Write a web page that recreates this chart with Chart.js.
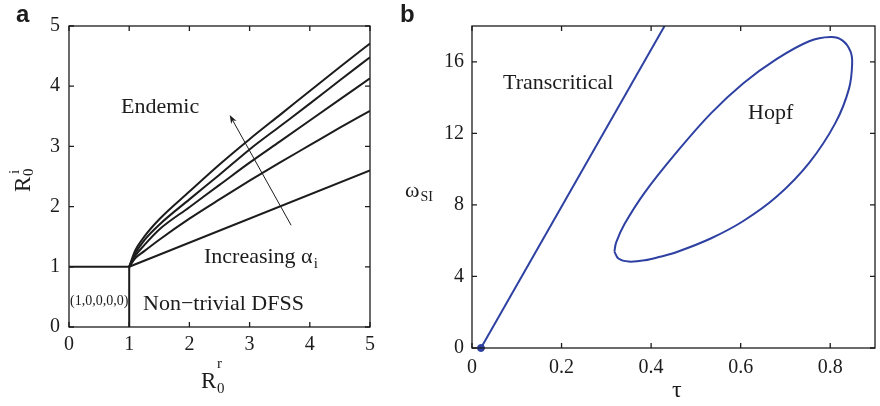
<!DOCTYPE html>
<html>
<head>
<meta charset="utf-8">
<script src="https://cdn.jsdelivr.net/npm/chart.js@4.4.1/dist/chart.umd.min.js"></script>
<style>
  body { margin: 0; background: #fff; }
  #wrap { position: relative; width: 880px; height: 406px; }
  canvas { position: absolute; top: 0; }
  #chartA { left: 0; }
  #chartB { left: 390px; }
</style>
</head>
<body>
<div id="wrap">
  <canvas id="chartA" width="390" height="406"></canvas>
  <canvas id="chartB" width="490" height="406"></canvas>
</div>
<script>
// panel a: boundaries in the (R0r, R0i) plane
const r0rTicks = [0, 1, 2, 3, 4, 5];
const r0iTicks = [0, 1, 2, 3, 4, 5];
const curveX = [1, 1.1, 1.25, 1.5, 2, 2.5, 3, 3.5, 4, 4.5, 5];
const curve1 = [1, 1.27, 1.5, 1.79, 2.25, 2.70, 3.12, 3.52, 3.92, 4.32, 4.71];
const curve2 = [1, 1.22, 1.44, 1.70, 2.12, 2.53, 2.95, 3.33, 3.71, 4.10, 4.48];
const curve3 = [1, 1.18, 1.36, 1.62, 1.99, 2.36, 2.73, 3.08, 3.43, 3.78, 4.13];
const curve4 = [1, 1.14, 1.26, 1.45, 1.80, 2.12, 2.43, 2.73, 3.02, 3.31, 3.59];
const lowestX = [1, 5];
const lowestY = [1, 2.6];
const dfssX = [0, 1, 1];
const dfssY = [1, 1, 0];
const arrowFrom = [3.69, 1.69];
const arrowTo = [2.67, 3.52];

// panel b: bifurcation curves in the (tau, omega_SI) plane
const tauTicks = [0, 0.2, 0.4, 0.6, 0.8];
const omegaTicks = [0, 4, 8, 12, 16];
const transTau = [0.02, 0.43];
const transOmega = [0, 18];
const hopfTau = [0.318, 0.327, 0.35, 0.386, 0.42, 0.459, 0.533, 0.606, 0.68, 0.753, 0.812, 0.842, 0.849,
                 0.845, 0.827, 0.801, 0.753, 0.68, 0.606, 0.533, 0.459, 0.386, 0.34, 0.322, 0.318];
const hopfOmega = [5.4, 5.0, 4.83, 4.9, 5.1, 5.38, 6.12, 7.1, 8.45, 10.35, 12.6, 14.5, 15.9,
                   16.6, 17.2, 17.38, 17.15, 16.15, 14.8, 13.1, 11.0, 8.7, 6.9, 5.9, 5.4];
const bifTau = [0.02];
const bifOmega = [0];

const INK = '#1c1c1c';
const BLUE = '#2e41a2';
const SERIF = '"Liberation Serif", "DejaVu Serif", serif';

const pts = (xs, ys) => xs.map((x, i) => ({ x: x, y: ys[i] }));

function text(ctx, str, x, y, size, opts = {}) {
    ctx.font = (opts.bold ? 'bold ' : '') + size + 'px ' + (opts.family || SERIF);
    ctx.fillStyle = INK;
    ctx.textAlign = 'left';
    ctx.textBaseline = 'alphabetic';
    ctx.fillText(str, x, y);
    return ctx.measureText(str).width;
}

// MATLAB-like box with inward ticks on all four sides
const boxTicks = {
    id: 'boxTicks',
    afterDatasetsDraw(chart) {
        const { ctx, chartArea: a, scales: { x, y } } = chart;
        ctx.save();
        ctx.strokeStyle = INK;
        ctx.lineWidth = 1.3;
        ctx.strokeRect(a.left, a.top, a.right - a.left, a.bottom - a.top);
        ctx.beginPath();
        x.ticks.forEach(t => {
            const px = x.getPixelForValue(t.value);
            ctx.moveTo(px, a.bottom); ctx.lineTo(px, a.bottom - 5);
            ctx.moveTo(px, a.top); ctx.lineTo(px, a.top + 5);
        });
        y.ticks.forEach(t => {
            const py = y.getPixelForValue(t.value);
            ctx.moveTo(a.left, py); ctx.lineTo(a.left + 5, py);
            ctx.moveTo(a.right, py); ctx.lineTo(a.right - 5, py);
        });
        ctx.stroke();
        ctx.restore();
    }
};

const textA = {
    id: 'textA',
    afterDraw(chart) {
        const { ctx, scales: { x, y } } = chart;
        ctx.save();
        text(ctx, 'a', 16, 22, 24, { bold: true, family: '"Liberation Sans", Arial, sans-serif' });
        text(ctx, 'Endemic', 121, 113, 22);
        const w = text(ctx, 'Increasing α', 204, 263, 22);
        text(ctx, 'i', 204 + w + 1, 268, 15);
        text(ctx, 'Non\u2212trivial DFSS', 143, 310, 22);
        text(ctx, '(1,0,0,0,0)', 70, 305, 14);

        // x title R0^r
        text(ctx, 'R', 201, 388, 23);
        text(ctx, '0', 217, 393, 15);
        text(ctx, 'r', 217, 368, 15);

        // y title R0^i, rotated
        ctx.save();
        ctx.translate(30, 192);
        ctx.rotate(-Math.PI / 2);
        text(ctx, 'R', 0, 0, 23);
        text(ctx, '0', 16, 3, 15);
        text(ctx, 'i', 18, -11, 15);
        ctx.restore();

        // arrow for increasing alpha_i
        const x0 = x.getPixelForValue(arrowFrom[0]), y0 = y.getPixelForValue(arrowFrom[1]);
        const x1 = x.getPixelForValue(arrowTo[0]), y1 = y.getPixelForValue(arrowTo[1]);
        const ang = Math.atan2(y1 - y0, x1 - x0);
        ctx.strokeStyle = INK;
        ctx.fillStyle = INK;
        ctx.lineWidth = 1;
        ctx.beginPath();
        ctx.moveTo(x0, y0);
        ctx.lineTo(x1 - 4 * Math.cos(ang), y1 - 4 * Math.sin(ang));
        ctx.stroke();
        ctx.beginPath();
        ctx.moveTo(x1, y1);
        ctx.lineTo(x1 - 9 * Math.cos(ang - 0.35), y1 - 9 * Math.sin(ang - 0.35));
        ctx.lineTo(x1 - 6 * Math.cos(ang), y1 - 6 * Math.sin(ang));
        ctx.lineTo(x1 - 9 * Math.cos(ang + 0.35), y1 - 9 * Math.sin(ang + 0.35));
        ctx.closePath();
        ctx.fill();
        ctx.restore();
    }
};

const textB = {
    id: 'textB',
    afterDraw(chart) {
        const ctx = chart.ctx;
        ctx.save();
        text(ctx, 'b', 10, 22, 24, { bold: true, family: '"Liberation Sans", Arial, sans-serif' });
        text(ctx, 'Transcritical', 113, 89, 22);
        text(ctx, 'Hopf', 358, 119, 22);
        const w = text(ctx, 'ω', 15, 197, 22);
        text(ctx, 'SI', 15 + w + 1, 201, 14);
        text(ctx, 'τ', 282, 397, 24);
        ctx.restore();
    }
};

function tickFont() {
    return { family: SERIF, size: 20 };
}

function lineSet(data, color, width, extra = {}) {
    return Object.assign({
        data: data,
        showLine: true,
        borderColor: color,
        backgroundColor: color,
        borderWidth: width,
        pointRadius: 0,
        tension: 0
    }, extra);
}

function makeScale(min, max, tickList, padding, fit, isX) {
    return {
        type: 'linear',
        min: min,
        max: max,
        grid: { display: false, drawTicks: false },
        border: { display: false },
        ticks: {
            padding: padding,
            color: INK,
            font: tickFont(),
            maxRotation: 0,
            autoSkip: false,
            callback: v => String(v)
        },
        afterBuildTicks: s => { s.ticks = tickList.map(v => ({ value: v })); },
        afterFit: s => { if (isX) s.height = fit; else s.width = fit; }
    };
}

const mono = { cubicInterpolationMode: 'monotone' };

new Chart(document.getElementById('chartA'), {
    type: 'scatter',
    data: {
        datasets: [
            lineSet(pts(curveX, curve1), INK, 2, mono),
            lineSet(pts(curveX, curve2), INK, 2, mono),
            lineSet(pts(curveX, curve3), INK, 2, mono),
            lineSet(pts(curveX, curve4), INK, 2, mono),
            lineSet(pts(lowestX, lowestY), INK, 2),
            lineSet(pts(dfssX, dfssY), INK, 2)
        ]
    },
    options: {
        responsive: false,
        animation: false,
        layout: { padding: { left: 0, right: 20, top: 26, bottom: 0 } },
        plugins: { legend: { display: false }, tooltip: { enabled: false } },
        scales: {
            x: makeScale(0, 5, r0rTicks, 6, 79, true),
            y: makeScale(0, 5, r0iTicks, 9, 69, false)
        }
    },
    plugins: [boxTicks, textA]
});

new Chart(document.getElementById('chartB'), {
    type: 'scatter',
    data: {
        datasets: [
            lineSet(pts(transTau, transOmega), BLUE, 2),
            lineSet(pts(hopfTau, hopfOmega), BLUE, 2, { tension: 0.35 }),
            {
                data: pts(bifTau, bifOmega),
                backgroundColor: BLUE,
                borderColor: BLUE,
                pointRadius: 3.5,
                clip: false
            }
        ]
    },
    options: {
        responsive: false,
        animation: false,
        layout: { padding: { left: 0, right: 1, top: 26, bottom: 0 } },
        plugins: { legend: { display: false }, tooltip: { enabled: false } },
        scales: {
            x: makeScale(0, 0.9, tauTicks, 8, 58, true),
            y: makeScale(0, 18, omegaTicks, 8, 82, false)
        }
    },
    plugins: [boxTicks, textB]
});
</script>
</body>
</html>
